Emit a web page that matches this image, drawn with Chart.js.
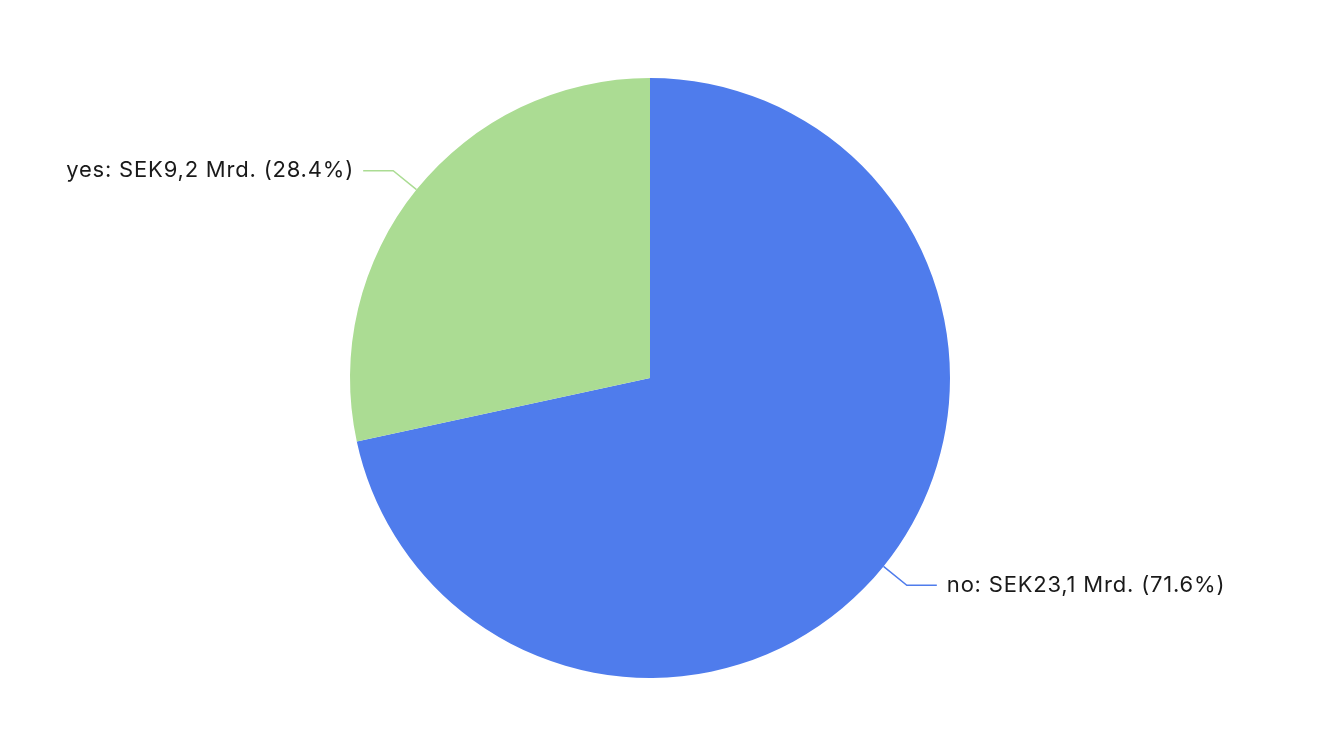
<!DOCTYPE html>
<html>
<head>
<meta charset="utf-8">
<script src="https://cdn.jsdelivr.net/npm/chart.js@4/dist/chart.umd.min.js"></script>
<style>
  html, body { margin: 0; padding: 0; background: #fff; }
  #wrap { width: 1318px; height: 738px; }
</style>
</head>
<body>
<div id="wrap"><canvas id="chart"></canvas></div>
<script>
// Chart data
const labels = ['no', 'yes'];
const values = [23.13, 9.17]; // SEK, Mrd.
const colors = ['#4f7cec', '#abdc93'];

// Draws leader lines + labels outside each slice
const outsideLabels = {
    id: 'outsideLabels',
    afterDatasetsDraw(chart) {
        const ctx = chart.ctx;
        const meta = chart.getDatasetMeta(0);
        const total = values.reduce((a, b) => a + b, 0);
        ctx.save();
        ctx.font = '22px Inter, "Noto Sans", sans-serif';
        ctx.letterSpacing = '0.8px';
        ctx.textBaseline = 'middle';
        meta.data.forEach((arc, i) => {
            const mid = (arc.startAngle + arc.endAngle) / 2;
            const r = arc.outerRadius;
            const x0 = arc.x + Math.cos(mid) * r;
            const y0 = arc.y + Math.sin(mid) * r;
            const x1 = arc.x + Math.cos(mid) * (r + 30);
            const y1 = arc.y + Math.sin(mid) * (r + 30);
            const right = Math.cos(mid) >= 0;
            const x2 = x1 + (right ? 30 : -30);

            ctx.strokeStyle = colors[i];
            ctx.lineWidth = 1.5;
            ctx.beginPath();
            ctx.moveTo(x0, y0);
            ctx.lineTo(x1, y1);
            ctx.lineTo(x2, y1);
            ctx.stroke();

            const pct = (values[i] / total * 100).toFixed(1);
            const txt = labels[i] + ': SEK' + values[i].toFixed(1).replace('.', ',') + ' Mrd. (' + pct + '%)';
            ctx.fillStyle = '#1a1a1a';
            ctx.textAlign = right ? 'left' : 'right';
            // letterSpacing leaves a trailing gap after the last glyph
            ctx.fillText(txt, x2 + (right ? 10 : -10 + 0.8), y1);
        });
        ctx.restore();
    }
};

new Chart(document.getElementById('chart'), {
    type: 'pie',
    data: {
        labels: labels,
        datasets: [{
            data: values,
            backgroundColor: colors,
            borderWidth: 0
        }]
    },
    options: {
        responsive: true,
        maintainAspectRatio: false,
        animation: false,
        layout: { padding: { top: 78, bottom: 60, left: 0, right: 18 } },
        plugins: {
            legend: { display: false },
            tooltip: { enabled: false }
        }
    },
    plugins: [outsideLabels]
});
</script>
</body>
</html>
